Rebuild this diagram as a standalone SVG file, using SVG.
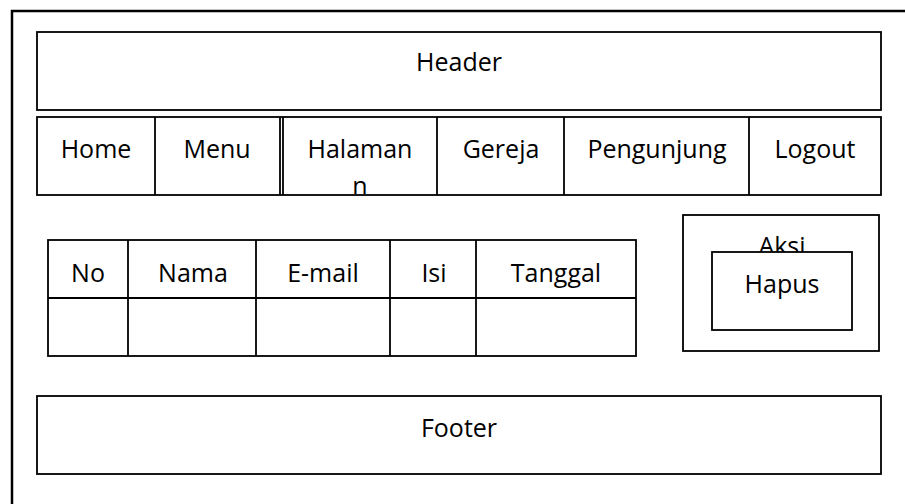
<svg xmlns="http://www.w3.org/2000/svg" width="905" height="504" viewBox="0 0 905 504">
<style>
.b{fill:#fff;stroke:#000;stroke-width:1.8}
.l{stroke:#000;stroke-width:1.8}
.t{font-family:"Open Sans","Liberation Sans",sans-serif;font-size:25px;fill:#000;text-anchor:middle}
</style>
<defs>
<clipPath id="halClip"><rect x="283" y="117" width="154" height="77"/></clipPath>
<clipPath id="aksiClip"><rect x="683" y="215" width="196" height="37"/></clipPath>
</defs>
<rect x="0" y="0" width="905" height="504" fill="#fff"/>
<rect id="frame" x="12" y="11" width="905" height="510" fill="none" stroke="#000" stroke-width="2.5"/>
<g id="header">
<rect class="b" x="37" y="32" width="844" height="78"/>
<text class="t" x="459" y="71">Header</text>
</g>
<g id="nav">
<rect class="b" x="37" y="117" width="844" height="78"/>
<line class="l" x1="155" y1="117" x2="155" y2="195"/>
<line class="l" x1="280" y1="117" x2="280" y2="195"/>
<line class="l" x1="283" y1="117" x2="283" y2="195"/>
<line class="l" x1="437" y1="117" x2="437" y2="195"/>
<line class="l" x1="564" y1="117" x2="564" y2="195"/>
<line class="l" x1="749" y1="117" x2="749" y2="195"/>
<text class="t" x="96" y="158">Home</text>
<text class="t" x="217" y="158">Menu</text>
<g clip-path="url(#halClip)"><text class="t" x="360" y="158">Halaman</text><text class="t" x="360" y="195">n</text></g>
<text class="t" x="501" y="158">Gereja</text>
<text class="t" x="657" y="158">Pengunjung</text>
<text class="t" x="815" y="158">Logout</text>
</g>
<g id="table">
<rect class="b" x="48" y="240" width="588" height="116"/>
<line class="l" x1="48" y1="298" x2="636" y2="298"/>
<line class="l" x1="128" y1="240" x2="128" y2="356"/>
<line class="l" x1="256" y1="240" x2="256" y2="356"/>
<line class="l" x1="390" y1="240" x2="390" y2="356"/>
<line class="l" x1="476" y1="240" x2="476" y2="356"/>
<text class="t" x="88" y="282">No</text>
<text class="t" x="193" y="282">Nama</text>
<text class="t" x="323" y="282">E-mail</text>
<text class="t" x="434" y="282">Isi</text>
<text class="t" x="556" y="282">Tanggal</text>
</g>
<g id="aksi">
<rect class="b" x="683" y="215" width="196" height="136"/>
<g clip-path="url(#aksiClip)"><text class="t" x="782" y="255">Aksi</text></g>
</g>
<g id="hapus">
<rect class="b" x="712" y="252" width="140" height="78"/>
<text class="t" x="782" y="293">Hapus</text>
</g>
<g id="footer">
<rect class="b" x="37" y="396" width="844" height="78"/>
<text class="t" x="459" y="437">Footer</text>
</g>
<g id="connectors"/>
</svg>
